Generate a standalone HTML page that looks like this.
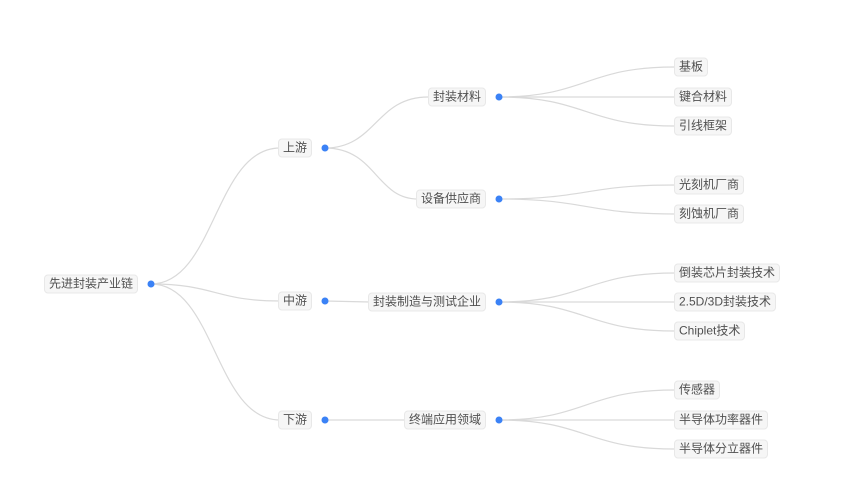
<!DOCTYPE html>
<html><head><meta charset="utf-8"><style>
html,body{margin:0;padding:0;background:#fff;}
#c{position:relative;width:844px;height:489px;overflow:hidden;background:#fff;}
svg{position:absolute;left:0;top:0;}
.l{position:absolute;height:17px;line-height:17px;font-size:12px;padding:0 4px;border:1px solid #e8e8e8;background:#f6f6f6;border-radius:4px;color:#505050;white-space:nowrap;font-family:"Liberation Sans","Noto Sans CJK SC",sans-serif;transform:translateY(-50%);}
</style></head><body><div id="c">
<svg width="844" height="489" viewBox="0 0 844 489">
<g fill="none" stroke="#d9d9d9" stroke-width="1.2">
<path d="M151 284 C215 284,215 148,280 148"/>
<path d="M151 284 C215 284,215 301,280 301"/>
<path d="M151 284 C215 284,215 420,280 420"/>
<path d="M325 148 C376 148,376 97,428 97"/>
<path d="M325 148 C376 148,376 199,418 199"/>
<path d="M325 301 L370 302"/>
<path d="M325 420 L406 420"/>
<path d="M499 97 C586 97,586 67,674 67"/>
<path d="M499 97 L674 97"/>
<path d="M499 97 C586 97,586 126,674 126"/>
<path d="M499 199 C586 199,586 185,674 185"/>
<path d="M499 199 C586 199,586 214,674 214"/>
<path d="M499 302 C586 302,586 273,674 273"/>
<path d="M499 302 L674 302"/>
<path d="M499 302 C586 302,586 331,674 331"/>
<path d="M499 420 C586 420,586 390,674 390"/>
<path d="M499 420 L674 420"/>
<path d="M499 420 C586 420,586 449,674 449"/>
</g>
<g fill="#3b82f6">
<circle cx="151" cy="284" r="3.5"/>
<circle cx="325" cy="148" r="3.5"/>
<circle cx="325" cy="301" r="3.5"/>
<circle cx="325" cy="420" r="3.5"/>
<circle cx="499" cy="97" r="3.5"/>
<circle cx="499" cy="199" r="3.5"/>
<circle cx="499" cy="302" r="3.5"/>
<circle cx="499" cy="420" r="3.5"/>
</g>
</svg>
<div class="l" style="right:706px;top:284px">先进封装产业链</div>
<div class="l" style="right:532px;top:148px">上游</div>
<div class="l" style="right:532px;top:301px">中游</div>
<div class="l" style="right:532px;top:420px">下游</div>
<div class="l" style="right:358px;top:97px">封装材料</div>
<div class="l" style="right:358px;top:199px">设备供应商</div>
<div class="l" style="right:358px;top:302px">封装制造与测试企业</div>
<div class="l" style="right:358px;top:420px">终端应用领域</div>
<div class="l" style="left:674px;top:67px">基板</div>
<div class="l" style="left:674px;top:97px">键合材料</div>
<div class="l" style="left:674px;top:126px">引线框架</div>
<div class="l" style="left:674px;top:185px">光刻机厂商</div>
<div class="l" style="left:674px;top:214px">刻蚀机厂商</div>
<div class="l" style="left:674px;top:273px">倒装芯片封装技术</div>
<div class="l" style="left:674px;top:302px">2.5D/3D封装技术</div>
<div class="l" style="left:674px;top:331px">Chiplet技术</div>
<div class="l" style="left:674px;top:390px">传感器</div>
<div class="l" style="left:674px;top:420px">半导体功率器件</div>
<div class="l" style="left:674px;top:449px">半导体分立器件</div>
</div></body></html>
